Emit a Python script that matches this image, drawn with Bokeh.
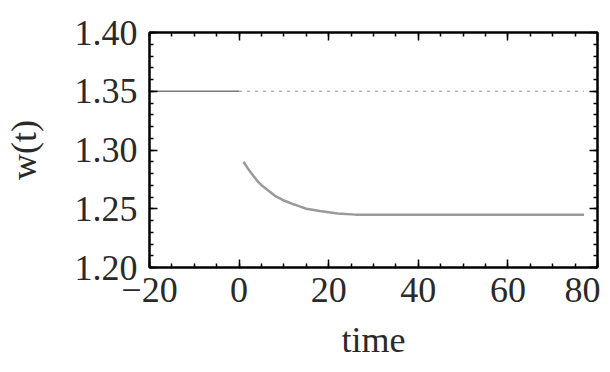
from bokeh.plotting import figure
from bokeh.models import LinearAxis, FixedTicker, Range1d
from bokeh.embed import file_html
from bokeh.resources import INLINE

# Data
pre_t = [-20, 0]
pre_w = [1.35, 1.35]
ref_t = [0, 77]
ref_w = [1.35, 1.35]
curve_t = [1, 1.5, 2, 3, 4, 5, 6, 7, 8, 9, 10, 11, 12, 13.5, 15, 18, 20, 22,
           26, 30, 40, 60, 77]
curve_w = [1.290, 1.287, 1.284, 1.279, 1.274, 1.270, 1.267, 1.264, 1.261,
           1.259, 1.257, 1.2555, 1.254, 1.252, 1.250, 1.248, 1.247, 1.246,
           1.245, 1.245, 1.245, 1.245, 1.245]

x_major = [-20, 0, 20, 40, 60, 80]
x_minor = [v for v in range(-20, 81, 5)]
y_major = [1.20, 1.25, 1.30, 1.35, 1.40]
y_minor = [round(1.20 + 0.01 * i, 2) for i in range(21)]
x_labels = {-20: "\u221220", 0: "0", 20: "20", 40: "40", 60: "60", 80: "80"}
y_labels = {1.20: "1.20", 1.25: "1.25", 1.30: "1.30", 1.35: "1.35", 1.40: "1.40"}
x_title = "time"
y_title = "w(t)"

FONT = "Liberation Serif"
TXT = "#2a2a2a"

p = figure(width=600, height=362, output_backend="svg", toolbar_location=None,
           x_range=Range1d(-20, 80), y_range=Range1d(1.20, 1.40),
           x_axis_location=None, y_axis_location=None)
p.min_border_left = 149
p.min_border_right = 3
p.min_border_top = 32
p.min_border_bottom = 94
p.grid.visible = False
p.outline_line_color = "black"
p.outline_line_width = 2
p.background_fill_color = "white"
p.border_fill_color = "white"

def style(ax):
    ax.axis_line_color = "black"
    ax.axis_line_width = 2
    ax.major_tick_in = 8
    ax.major_tick_out = 0
    ax.minor_tick_in = 4
    ax.minor_tick_out = 0
    ax.major_tick_line_color = "black"
    ax.minor_tick_line_color = "black"
    ax.major_tick_line_width = 1.5
    ax.minor_tick_line_width = 1.5
    ax.major_label_text_font = FONT
    ax.major_label_text_color = TXT
    ax.major_label_text_font_size = "36px"
    ax.axis_label_text_font = FONT
    ax.axis_label_text_color = TXT
    ax.axis_label_text_font_style = "normal"
    ax.axis_label_text_font_size = "36px"

xb = LinearAxis(ticker=FixedTicker(ticks=x_major, minor_ticks=x_minor),
                major_label_overrides=x_labels, axis_label=x_title)
style(xb)
xb.major_label_standoff = 10
xb.axis_label_standoff = 15
p.add_layout(xb, "below")

yl = LinearAxis(ticker=FixedTicker(ticks=y_major, minor_ticks=y_minor),
                major_label_overrides=y_labels, axis_label=y_title)
style(yl)
yl.major_label_standoff = 12
yl.axis_label_standoff = 28
p.add_layout(yl, "left")

xt = LinearAxis(ticker=FixedTicker(ticks=x_major, minor_ticks=x_minor),
                major_label_overrides={t: "" for t in x_major})
style(xt)
xt.major_label_standoff = 0
p.add_layout(xt, "above")

yr = LinearAxis(ticker=FixedTicker(ticks=y_major, minor_ticks=y_minor),
                major_label_overrides={t: "" for t in y_major})
style(yr)
yr.major_label_standoff = 0
p.add_layout(yr, "right")

p.line(ref_t, ref_w, line_color="#b4b4b4", line_width=1.5, line_dash="3 5")
p.line(pre_t, pre_w, line_color="#7a7a7a", line_width=1.5)
p.line(curve_t, curve_w, line_color="#9a9a9a", line_width=2.5)

open("out.html", "w").write(file_html(p, INLINE))
